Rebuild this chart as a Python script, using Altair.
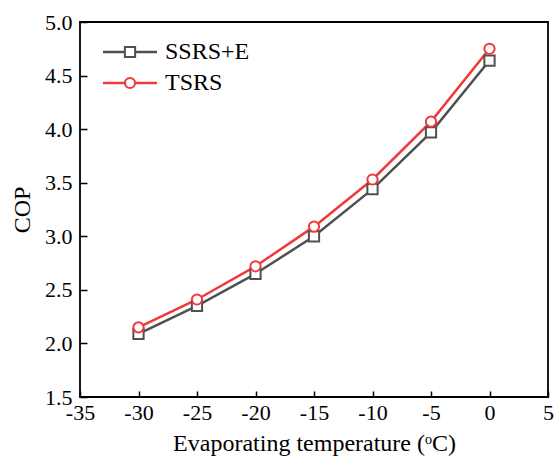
import altair as alt
import pandas as pd

temps = [-30, -25, -20, -15, -10, -5, 0]
cop_ssrs_e = [2.09, 2.35, 2.65, 3.00, 3.44, 3.97, 4.64]
cop_tsrs = [2.15, 2.41, 2.72, 3.09, 3.53, 4.07, 4.75]
series_names = ["SSRS+E", "TSRS"]
series_colors = ["#505050", "#ee3a3a"]
series_shapes = ["square", "circle"]
x_ticks = [-35, -30, -25, -20, -15, -10, -5, 0, 5]
y_ticks = [1.5, 2.0, 2.5, 3.0, 3.5, 4.0, 4.5, 5.0]

rows = []
for t, v in zip(temps, cop_ssrs_e):
    rows.append({"T": t, "COP": v, "Series": series_names[0]})
for t, v in zip(temps, cop_tsrs):
    rows.append({"T": t, "COP": v, "Series": series_names[1]})
df = pd.DataFrame(rows)
leg_df = pd.DataFrame({"Series": series_names})

FONT = "Liberation Serif"

xaxis = alt.Axis(values=x_ticks, title="Evaporating temperature  (ᵒC)",
                 grid=False, domain=False, offset=-6, tickSize=6, labelFlush=False,
                 labelPadding=5, titlePadding=8, labelExpr="toString(datum.value)")
yaxis = alt.Axis(values=y_ticks, title="COP", format=".1f", labelFlush=False,
                 grid=False, domain=False, offset=-7, tickSize=7,
                 labelPadding=8, titlePadding=10)
xscale = alt.Scale(domain=[-35, 5], nice=False, zero=False)
yscale = alt.Scale(domain=[1.5, 5.0], nice=False, zero=False)
xenc = alt.X("T:Q", scale=xscale, axis=xaxis)
yenc = alt.Y("COP:Q", scale=yscale, axis=yaxis)
stroke_scale = alt.Scale(domain=series_names, range=series_colors)
shape_scale = alt.Scale(domain=series_names, range=series_shapes)

base = alt.Chart(df)

lines = base.mark_line(strokeWidth=2.5).encode(
    x=xenc, y=yenc,
    stroke=alt.Stroke("Series:N", scale=stroke_scale, legend=None),
    detail="Series:N",
)

points = base.mark_point(filled=True, fill="white", strokeWidth=2, size=105, opacity=1).encode(
    x=xenc, y=yenc,
    stroke=alt.Stroke("Series:N", scale=stroke_scale, legend=None),
    shape=alt.Shape("Series:N", scale=shape_scale, legend=None),
)

data_layer = alt.layer(lines, points)

# legend, built from the series list with its own point scale for rows
ly = alt.Y("Series:N", scale=alt.Scale(type="point", domain=series_names, range=[30, 61],
                                       padding=0, paddingOuter=0), axis=None)
lbase = alt.Chart(leg_df)
leg_rule = lbase.mark_rule(strokeWidth=2.5).encode(
    x=alt.value(23), x2=alt.value(77), y=ly,
    stroke=alt.Stroke("Series:N", scale=stroke_scale, legend=None),
)
leg_pts = lbase.mark_point(filled=True, fill="white", strokeWidth=2, size=105, opacity=1).encode(
    x=alt.value(50), y=ly,
    stroke=alt.Stroke("Series:N", scale=stroke_scale, legend=None),
    shape=alt.Shape("Series:N", scale=shape_scale, legend=None),
)
leg_txt = lbase.mark_text(align="left", baseline="middle", font=FONT, fontSize=24, color="black").encode(
    x=alt.value(85), y=ly, text="Series:N",
)
legend_layer = alt.layer(leg_rule, leg_pts, leg_txt)

chart = alt.layer(data_layer, legend_layer).resolve_scale(y="independent").properties(
    width=468, height=375,
    autosize=alt.AutoSizeParams(type="none"),
    padding={"left": 80, "top": 22, "right": 7, "bottom": 60},
    background="white",
).configure_view(
    stroke="black", strokeWidth=1.8
).configure_axis(
    labelFont=FONT, labelFontSize=22, labelColor="black",
    titleFont=FONT, titleFontSize=24, titleColor="black", titleFontWeight="normal",
    tickColor="black", tickWidth=1.5,
)

chart.save("out.html", embed_options={"renderer": "svg", "actions": False})
